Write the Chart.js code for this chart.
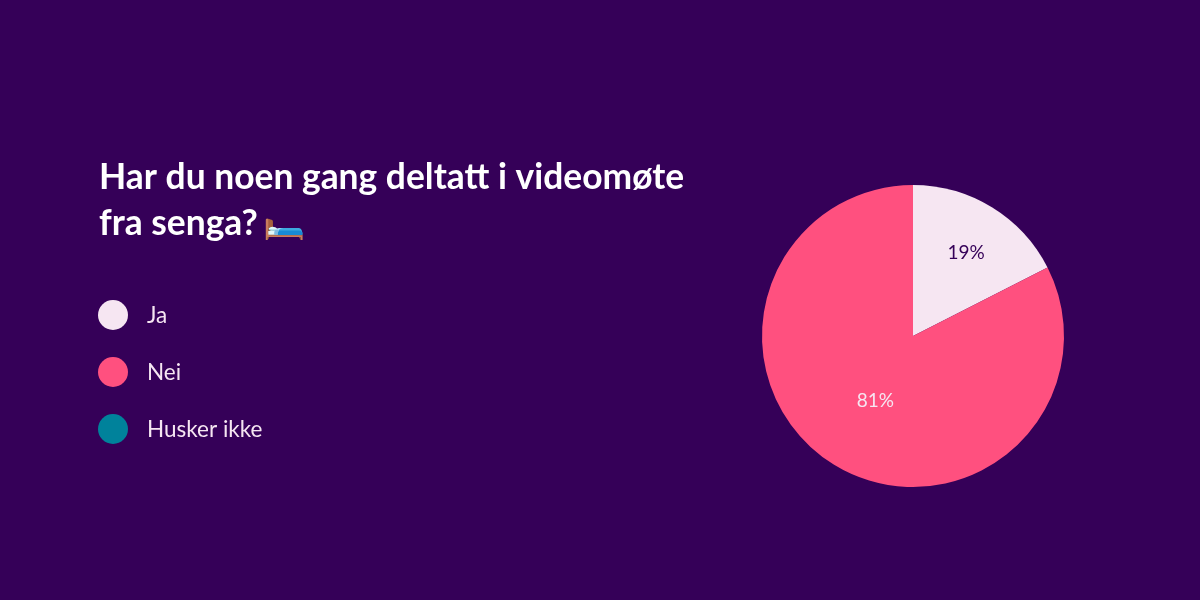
<!DOCTYPE html>
<html>
<head>
<meta charset="utf-8">
<script src="https://cdn.jsdelivr.net/npm/chart.js@4"></script>
<style>
  html, body { margin: 0; padding: 0; background: #350058; }
  #wrap { position: relative; width: 1200px; height: 600px; overflow: hidden; }
  canvas { position: absolute; left: 0; top: 0; }
</style>
</head>
<body>
<div id="wrap"><canvas id="chart" width="1200" height="600"></canvas></div>
<script>
const titleLines = ["Har du noen gang deltatt i videomøte", "fra senga? "];
const titleEmoji = "🛏️";
const categories = ["Ja", "Nei", "Husker ikke"];
const shares = [17.5, 82.5, 0];
const shareLabels = ["19%", "81%", ""];
const sliceColors = ["#f6e6f2", "#ff507f", "#00829b"];
const labelColors = ["#350058", "#f6e6f2", "#ffffff"];
const labelRadius = [0.66, 0.49, 0];

const font = 'Lato, "Noto Sans", sans-serif';

// draws title, legend and slice labels on top of the pie
const overlay = {
  id: "overlay",
  afterDraw(chart) {
    const ctx = chart.ctx;
    ctx.save();
    ctx.textBaseline = "middle";
    ctx.textAlign = "left";

    ctx.fillStyle = "#ffffff";
    ctx.font = "700 35.4px " + font;
    titleLines.forEach((line, i) => ctx.fillText(line, 99, 178 + i * 46));
    const emojiX = 99 + ctx.measureText(titleLines[1]).width;
    ctx.font = "700 34px " + font;
    ctx.fillText(titleEmoji, emojiX - 3, 222);

    ctx.font = "22.5px " + font;
    categories.forEach((name, i) => {
      const y = 315 + i * 57;
      ctx.beginPath();
      ctx.arc(113, y, 15, 0, Math.PI * 2);
      ctx.fillStyle = sliceColors[i];
      ctx.fill();
      ctx.fillStyle = "#f6e6f2";
      ctx.fillText(name, 147, y + 1);
    });

    ctx.font = "19px " + font;
    ctx.textAlign = "center";
    const arcs = chart.getDatasetMeta(0).data;
    arcs.forEach((arc, i) => {
      if (!shareLabels[i]) return;
      const mid = (arc.startAngle + arc.endAngle) / 2;
      const r = arc.outerRadius * labelRadius[i];
      ctx.fillStyle = labelColors[i];
      ctx.fillText(shareLabels[i], arc.x + Math.cos(mid) * r + 1, arc.y + Math.sin(mid) * r + 1.5);
    });
    ctx.restore();
  }
};

new Chart(document.getElementById("chart"), {
  type: "pie",
  data: {
    labels: categories,
    datasets: [{
      data: shares,
      backgroundColor: sliceColors,
      borderWidth: 0
    }]
  },
  options: {
    responsive: false,
    animation: false,
    layout: { padding: { left: 762, right: 136, top: 185, bottom: 113 } },
    plugins: {
      legend: { display: false },
      tooltip: { enabled: false }
    }
  },
  plugins: [overlay]
});
</script>
</body>
</html>
